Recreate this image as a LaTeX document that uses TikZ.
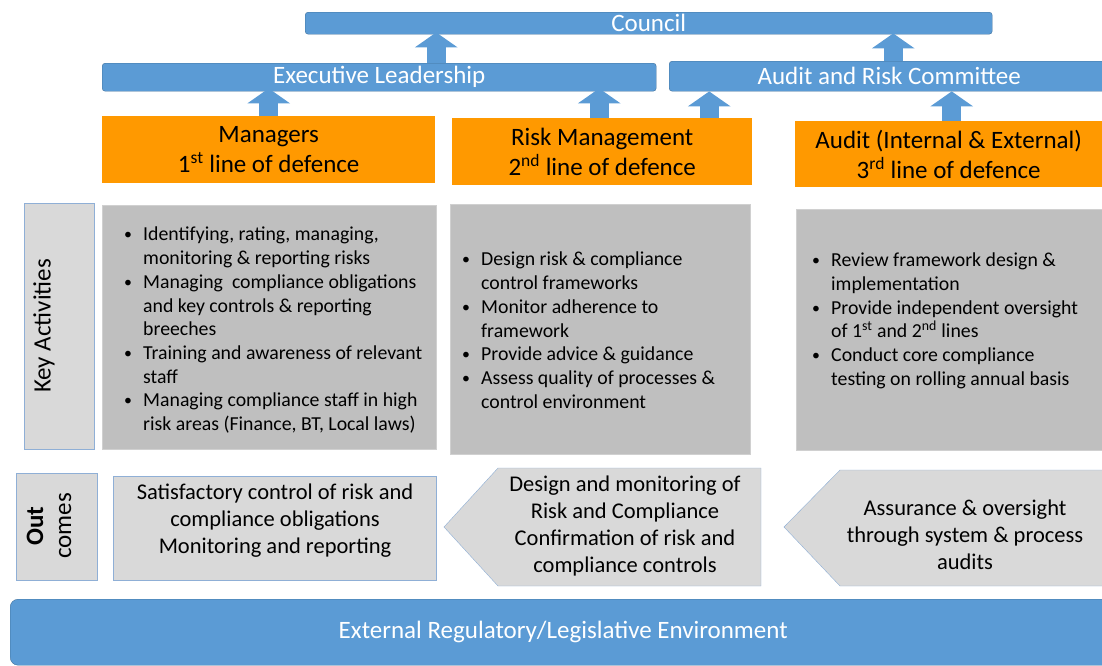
\documentclass[tikz,border=0pt]{standalone}
\usepackage{fontspec}
\setmainfont{Carlito}
\usetikzlibrary{arrows.meta,positioning}

\definecolor{barblue}{HTML}{5B9BD5}
\definecolor{barline}{HTML}{41719C}
\definecolor{lodorange}{HTML}{FF9900}
\definecolor{actgray}{HTML}{BFBFBF}
\definecolor{actline}{HTML}{D0D0D0}
\definecolor{outgray}{HTML}{D9D9D9}
\definecolor{outline}{HTML}{8FAFD6}

% bullet column for the activity lists
\newcommand\bul{\makebox[19pt][l]{\raisebox{1pt}{\scalebox{0.8}{\textbullet}}}}
\newcommand\ind{\hspace*{19pt}}

\tikzset{
  bar/.style={draw=barline, fill=barblue, rounded corners=3pt, anchor=north west,
    text=white, inner sep=0pt, font=\fontsize{25}{28}\selectfont},
  lod/.style={fill=lodorange, anchor=north west, align=center, inner sep=0pt,
    font=\fontsize{25}{30}\selectfont},
  actbox/.style={draw=actline, fill=actgray, anchor=north west, inner sep=0pt},
  acttext/.style={align=left, inner sep=0pt, font=\fontsize{19.8}{23.7}\selectfont},
  sidebox/.style={draw=outline, fill=outgray, anchor=north west, inner sep=0pt},
  outbox/.style={draw=outline, fill=outgray},
  outtext/.style={align=center, inner sep=0pt, font=\fontsize{22.5}{27}\selectfont},
  upflow/.style={barblue, line width=19pt, -{Triangle[width=42pt,length=15pt]}},
}

\begin{document}
\begin{tikzpicture}[x=1pt,y=-1pt]
  \useasboundingbox (0,0) rectangle (1102,665);
  \clip (0,0) rectangle (1102,665);

  % governance bars
  \node[bar, minimum width=687, minimum height=22] (council) at (305,12) {Council};
  \node[bar, minimum width=554, minimum height=28] (exec) at (102,63) {Executive Leadership};
  \node[bar, minimum width=440, minimum height=30] (arc) at (669,61) {Audit and Risk Committee};

  % three lines of defence
  \node[lod, minimum width=333, minimum height=67] (mgr) at (102,116)
    {Managers\\1\textsuperscript{st} line of defence};
  \node[lod, minimum width=300, minimum height=67] (rm) at (452,118)
    {Risk Management\\2\textsuperscript{nd} line of defence};
  \node[lod, minimum width=307, minimum height=66] (aud) at (795,121)
    {Audit (Internal \& External)\\3\textsuperscript{rd} line of defence};

  % reporting arrows
  \draw[upflow, shorten >=-2pt] ([xshift=57pt]exec.north) -- ([xshift=57pt]exec.north |- council.south);
  \draw[upflow, shorten >=-1pt] ([xshift=4pt]arc.north) -- ([xshift=4pt]arc.north |- council.south);
  \draw[upflow, shorten >=-3pt] (mgr.north) -- (mgr.north |- exec.south);
  \draw[upflow, shorten >=-3pt] ([xshift=-3pt]rm.north) -- ([xshift=-3pt]rm.north |- exec.south);
  \draw[upflow] ([xshift=107pt]rm.north) -- ([xshift=107pt]rm.north |- arc.south);
  \draw[upflow] ([xshift=3pt]aud.north) -- ([xshift=3pt]aud.north |- arc.south);

  % key activities
  \node[sidebox, minimum width=70, minimum height=246] (kalab) at (24,203) {};
  \node[font=\fontsize{25}{28}\selectfont, rotate=90] (katext) at (44,326) {Key Activities};

  \node[actbox, minimum width=334, minimum height=244] (act1) at (102,205) {};
  \node[actbox, minimum width=300, minimum height=250] (act2) at (450,204) {};
  \node[actbox, minimum width=310, minimum height=241] (act3) at (796,209) {};

  \node[acttext, right=22pt of act1.west, yshift=-3pt] (list1) {%
    \bul Identifying, rating, managing,\\
    \ind monitoring \& reporting risks\\
    \bul Managing\ \ compliance obligations\\
    \ind and key controls \& reporting\\
    \ind breeches\\
    \bul Training and awareness of relevant\\
    \ind staff\\
    \bul Managing compliance staff in high\\
    \ind risk areas (Finance, BT, Local laws)};
  \node[acttext, right=12pt of act2.west, yshift=-1pt] (list2) {%
    \bul Design risk \& compliance\\
    \ind control frameworks\\
    \bul Monitor adherence to\\
    \ind framework\\
    \bul Provide advice \& guidance\\
    \bul Assess quality of processes \&\\
    \ind control environment};
  \node[acttext, right=16pt of act3.west, yshift=9pt] (list3) {%
    \bul Review framework design \&\\
    \ind implementation\\
    \bul Provide independent oversight\\
    \ind of 1\textsuperscript{st} and 2\textsuperscript{nd} lines\\
    \bul Conduct core compliance\\
    \ind testing on rolling annual basis};

  % outcomes
  \node[sidebox, minimum width=81, minimum height=107] (outlab) at (16,473) {};
  \node[font=\fontsize{25}{28}\selectfont, rotate=90, align=center] (outname) at (49,526)
    {\textbf{Out}\\comes};

  \node[sidebox, minimum width=323, minimum height=104] (out1) at (113,476) {};
  \node[outtext] (out1text) at (275,521)
    {Satisfactory control of risk and\\compliance obligations\\Monitoring and reporting};

  \draw[outbox] (444,527) -- (498,468) -- (761,468) -- (761,586) -- (498,586) -- cycle;
  \node[outtext] (out2text) at (625,526)
    {Design and monitoring of\\Risk and Compliance\\Confirmation of risk and\\compliance controls};

  \draw[outbox] (784,527) -- (840,470) -- (1110,470) -- (1110,586) -- (840,586) -- cycle;
  \node[outtext] (out3text) at (965,535)
    {Assurance \& oversight\\through system \& process\\audits};

  % environment
  \node[bar, rounded corners=8pt, minimum width=1106, minimum height=66] (env) at (10,599)
    {External Regulatory/Legislative Environment};
\end{tikzpicture}
\end{document}
